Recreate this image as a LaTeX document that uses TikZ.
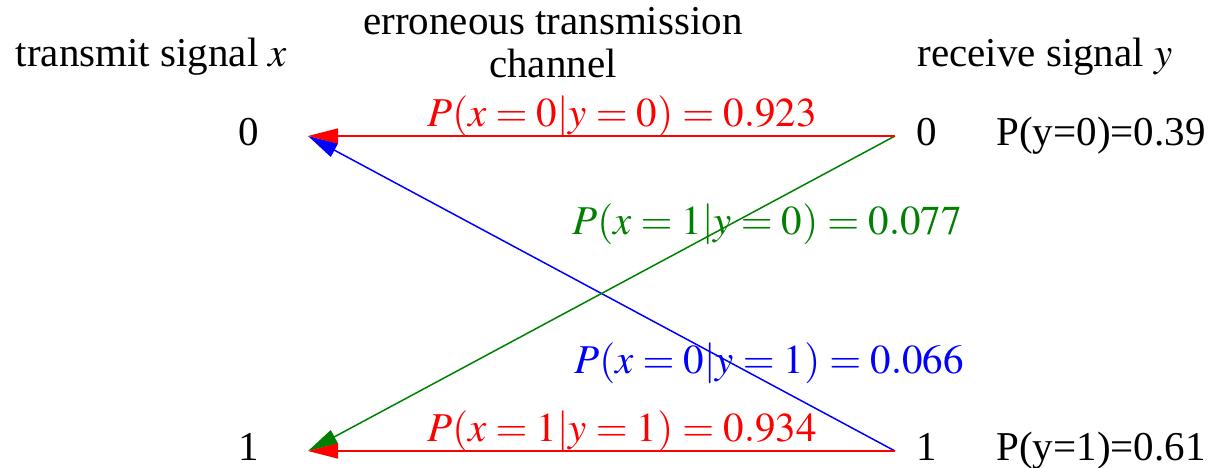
\documentclass[tikz,border=0pt]{standalone}
\usepackage{mathptmx}
\usepackage[no-math]{fontspec}
\setmainfont{Liberation Serif}
\usetikzlibrary{arrows.meta}
\definecolor{cgreen}{RGB}{0,128,0}
\begin{document}
\begin{tikzpicture}[x=1pt,y=-1pt,
  txt/.style={inner sep=0pt,anchor=base,font=\fontsize{41}{43}\selectfont},
  lbl/.style={inner sep=0pt,anchor=base,font=\fontsize{41}{43}\selectfont},
  conn/.style={line width=1.5pt,-{Triangle[length=30pt,width=15pt]}}]
\useasboundingbox (0,0) rectangle (1209,468);
% headings
\node[txt] (hx) at (151.5,67) {transmit signal $x$};
\node[txt,align=center] (hc) at (553,78) {erroneous transmission\\channel};
\node[txt] (hy) at (1045,67) {receive signal $y$};
% symbols
\node[txt] (l0) at (249,146) {0};
\node[txt] (l1) at (249,460) {1};
\node[txt] (r0) at (927,146) {0};
\node[txt] (r1) at (927,460) {1};
\node[txt] (p0) at (1101,146) {P(y=0)=0.39};
\node[txt] (p1) at (1101,460) {P(y=1)=0.61};
% endpoints
\coordinate (a0) at (308,136);
\coordinate (a1) at (308,451);
\coordinate (b0) at (895,136);
\coordinate (b1) at (895,451);
% connectors
\draw[conn,blue] (b1) -- (a0);
\draw[conn,cgreen] (b0) -- (a1);
\draw[conn,red] (b0) -- (a0);
\draw[conn,red] (b1) -- (a1);
% labels
\node[lbl,text=red] (t00) at (622,127) {$P(x=0|y=0)=0.923$};
\node[lbl,text=cgreen] (t10) at (767,234) {$P(x=1|y=0)=0.077$};
\node[lbl,text=blue] (t01) at (769,373) {$P(x=0|y=1)=0.066$};
\node[lbl,text=red] (t11) at (622,441) {$P(x=1|y=1)=0.934$};
\end{tikzpicture}
\end{document}
